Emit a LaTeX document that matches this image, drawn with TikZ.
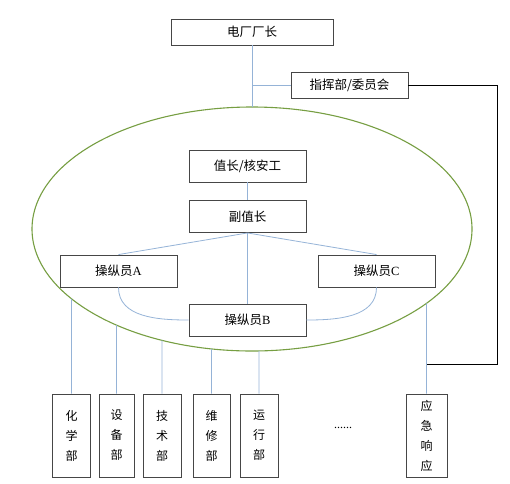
\documentclass[tikz,border=0pt]{standalone}
\usepackage{fontspec}
\setmainfont{Liberation Serif}
\newfontfamily\cjk{Noto Sans CJK SC}
\definecolor{linkblue}{RGB}{149,179,215}
\definecolor{ringgreen}{RGB}{118,158,66}
\definecolor{boxgray}{RGB}{70,70,70}
\usetikzlibrary{positioning, intersections, calc}

\begin{document}
\begin{tikzpicture}[
    x=1pt, y=1pt,
    post/.style={rectangle, draw=boxgray, line width=0.9pt, minimum width=117pt, minimum height=32pt, inner sep=0pt, font=\cjk\fontsize{12.5}{15}\selectfont},
    dept/.style={rectangle, draw=boxgray, line width=0.9pt, minimum width=38pt, minimum height=83pt, inner sep=0pt, align=center, font=\cjk\fontsize{12}{20}\selectfont},
    link/.style={draw=linkblue, line width=0.8pt}
]
    \useasboundingbox (0,0) rectangle (510,-483);

    % top of the tree
    \node[post, minimum width=162pt, minimum height=26pt] (chief) at (252,-32) {电厂厂长};
    \node[post, minimum height=26pt] (cmd) at (349.5,-85) {指挥部/委员会};

    % shift team inside the ring
    \draw[ringgreen, line width=1.1pt, name path=ring] (252,-229) ellipse [x radius=220pt, y radius=122pt];
    \node[post] (head) at (247.5,-166) {值长/核安工};
    \node[post] (deputy) at (247.5,-216.5) {副值长};
    \node[post] (opA) at (118.5,-271) {操纵员{\rmfamily A}};
    \node[post] (opC) at (376.5,-271) {操纵员{\rmfamily C}};
    \node[post] (opB) at (247.5,-320) {操纵员{\rmfamily B}};

    % departments
    \node[dept] (chem) at (71.5,-435.5) {化\\学\\部};
    \node[dept, minimum width=35pt] (equip) at (116.5,-435.5) {设\\备\\部};
    \node[dept] (tech) at (162,-435.5) {技\\术\\部};
    \node[dept, minimum width=37pt] (maint) at (211.5,-435.5) {维\\修\\部};
    \node[dept] (oper) at (259,-435.5) {运\\行\\部};
    \node[font=\fontsize{12}{14}\selectfont] (more) at (343,-428) {......};
    \node[dept, minimum width=41pt] (resp) at (426.5,-435.5) {应\\急\\响\\应};

    \coordinate (ringtop) at (252,-107);
    \coordinate (tap) at ([yshift=29pt]resp.north);

    \draw[link] (chief.south) -- (ringtop);
    \draw[link] (cmd.west) -- (cmd.west -| chief.south);
    \draw[link] (head) -- (deputy);
    \draw[link] (deputy.south) -- (opA.north);
    \draw[link] (deputy.south) -- (opC.north);
    \draw[link] (deputy.south) -- (opB.north);
    \draw[link] (opA.south) to[out=-90, in=180] (opB.west);
    \draw[link] (opC.south) to[out=-90, in=0] (opB.east);

    \foreach \d in {chem, equip, tech, maint, oper, resp} {
        \path[name path=cut] (\d.north) -- ++(0,130);
        \draw[link, name intersections={of=ring and cut}] (\d.north) -- (intersection-1);
    }

    \draw[black, line width=0.8pt] (cmd.east) -- ++(89,0) |- (tap);
\end{tikzpicture}
\end{document}
